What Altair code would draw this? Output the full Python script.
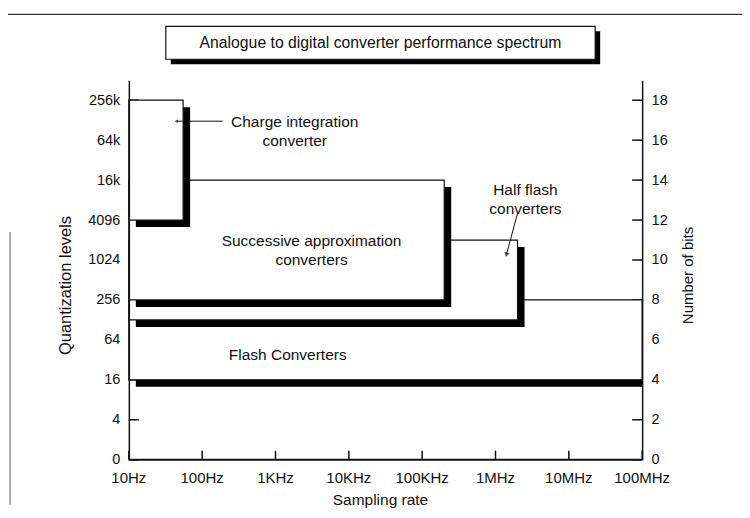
import altair as alt
import pandas as pd

# ---------------- data ----------------
conv_names = ["Flash", "Half flash", "Successive approximation", "Charge integration"]
freq_lo = [10, 10, 10, 10]                 # Hz
freq_hi = [1e8, 2e6, 2e5, 55]              # Hz
bits_lo = [4, 7, 8, 12]
bits_hi = [8, 11, 14, 18]

x_tick_vals = [10, 100, 1e3, 1e4, 1e5, 1e6, 1e7, 1e8]
x_tick_labels = ["10Hz", "100Hz", "1KHz", "10KHz", "100KHz", "1MHz", "10MHz", "100MHz"]
bit_ticks = [0, 2, 4, 6, 8, 10, 12, 14, 16, 18]
quant_labels = ["0", "4", "16", "64", "256", "1024", "4096", "16k", "64k", "256k"]

ann_text = ["Charge integration\nconverter", "Successive approximation\nconverters",
            "Half flash\nconverters", "Flash Converters"]
ann_freq = [1830, 3100, 2.56e6, 1470]
ann_bits = [16.9, 10.93, 13.5, 5.25]

# leader lines
lead_f1 = [45, 2.0e6]
lead_f2 = [190, 1.42e6]
lead_b1 = [16.95, 12.35]
lead_b2 = [16.95, 10.3]
head_f = [45, 1.42e6]
head_b = [16.95, 10.3]
head_angle = [270, 195]
head_size = [14, 30]

# ---------------- layout ----------------
W, H = 514, 380
FONT = "Liberation Sans"

boxes = pd.DataFrame(dict(name=conv_names, f_lo=freq_lo, f_hi=freq_hi, b_lo=bits_lo, b_hi=bits_hi))
ticks_df = pd.DataFrame(dict(b=bit_ticks))
xt_df = pd.DataFrame(dict(f=x_tick_vals, lab=x_tick_labels))
ann_df = pd.DataFrame(dict(t=ann_text, f=ann_freq, b=ann_bits))
lead_df = pd.DataFrame(dict(f1=lead_f1, f2=lead_f2, b1=lead_b1, b2=lead_b2))
head_df = pd.DataFrame(dict(f=head_f, b=head_b, a=head_angle, s=head_size))

xscale = alt.Scale(type="log", domain=[10, 1e8], nice=False)
yscale = alt.Scale(domain=[0, 19], nice=False, zero=False)

y_label_expr = "[" + ",".join("'%s'" % s for s in quant_labels) + "][round(datum.value/2)]"

left_axis = alt.Axis(values=bit_ticks, labelExpr=y_label_expr, ticks=False, tickSize=0,
                     grid=False, domainColor="#111", domainWidth=1.5, labelPadding=9,
                     labelFont=FONT, labelFontSize=14.5, labelColor="#111", zindex=1,
                     labelOverlap=False,
                     title="Quantization levels", titleFont=FONT, titleFontSize=16.5,
                     titleFontWeight="normal", titleColor="#111", titleAngle=270,
                     titleX=-63, titleY=205, titleAlign="center", titleBaseline="middle")

right_axis = alt.Axis(orient="right", values=bit_ticks, format="d", ticks=False, tickSize=0,
                      grid=False, domainColor="#111", domainWidth=1.5, labelPadding=9,
                      labelFont=FONT, labelFontSize=14.5, labelColor="#111", zindex=1,
                      labelOverlap=False,
                      title="Number of bits", titleFont=FONT, titleFontSize=15,
                      titleFontWeight="normal", titleColor="#111", titleAngle=270,
                      titleX=45, titleY=195, titleAlign="center", titleBaseline="middle")

layers = []

# axis carrier layers (invisible)
layers.append(alt.Chart(ticks_df).mark_point(opacity=0).encode(
    y=alt.Y("b:Q", scale=yscale, axis=left_axis)))
layers.append(alt.Chart(ticks_df).mark_point(opacity=0).encode(
    y=alt.Y("b:Q", scale=yscale, axis=right_axis)))

# inward ticks
layers.append(alt.Chart(ticks_df).mark_rule(color="#111", strokeWidth=1.5).encode(
    y=alt.Y("b:Q", scale=yscale, axis=None), x=alt.value(0), x2=alt.value(10)))
layers.append(alt.Chart(ticks_df).mark_rule(color="#111", strokeWidth=1.5).encode(
    y=alt.Y("b:Q", scale=yscale, axis=None), x=alt.value(W - 10), x2=alt.value(W)))
layers.append(alt.Chart(xt_df).mark_rule(color="#111", strokeWidth=1.5).encode(
    x=alt.X("f:Q", scale=xscale, axis=None), y=alt.value(H), y2=alt.value(H - 9)))

# converter boxes with drop shadows
for n in conv_names:
    sub = alt.Chart(boxes).transform_filter(alt.datum.name == n)
    enc = dict(x=alt.X("f_lo:Q", scale=xscale, axis=None), x2="f_hi:Q",
               y=alt.Y("b_lo:Q", scale=yscale, axis=None), y2="b_hi:Q")
    layers.append(sub.mark_rect(color="black", xOffset=7, x2Offset=7, yOffset=7,
                                y2Offset=7, clip=True).encode(**enc))
    layers.append(sub.mark_rect(fill="white", stroke="#111", strokeWidth=1.2).encode(**enc))

# bottom axis line, x tick labels and x title
layers.append(alt.Chart(ticks_df.head(1)).mark_rule(color="#111", strokeWidth=2).encode(
    x=alt.value(0), x2=alt.value(W), y=alt.value(H)))
layers.append(alt.Chart(xt_df).mark_text(font=FONT, fontSize=15, color="#111",
                                         align="center", baseline="middle").encode(
    x=alt.X("f:Q", scale=xscale, axis=None), y=alt.value(H + 18), text="lab:N"))
layers.append(alt.Chart(ticks_df.head(1)).mark_text(font=FONT, fontSize=15.5, color="#111",
                                                    align="center", baseline="middle").encode(
    x=alt.value(252), y=alt.value(H + 40), text=alt.value("Sampling rate")))

# annotations
layers.append(alt.Chart(ann_df).mark_text(font=FONT, fontSize=15.5, color="#111", lineBreak="\n",
                                          lineHeight=19, align="center", baseline="middle").encode(
    x=alt.X("f:Q", scale=xscale, axis=None), y=alt.Y("b:Q", scale=yscale, axis=None), text="t:N"))
layers.append(alt.Chart(lead_df).mark_rule(color="#111", strokeWidth=1).encode(
    x=alt.X("f1:Q", scale=xscale, axis=None), x2="f2:Q",
    y=alt.Y("b1:Q", scale=yscale, axis=None), y2="b2:Q"))
layers.append(alt.Chart(head_df).mark_point(shape="triangle", filled=True, color="#111").encode(
    x=alt.X("f:Q", scale=xscale, axis=None), y=alt.Y("b:Q", scale=yscale, axis=None),
    angle=alt.Angle("a:Q", scale=None), size=alt.Size("s:Q", scale=None)))

# title box (decoration)
layers.append(alt.Chart(ticks_df.head(1)).mark_rect(color="black").encode(
    x=alt.value(42), x2=alt.value(472), y=alt.value(-49), y2=alt.value(-16)))
layers.append(alt.Chart(ticks_df.head(1)).mark_rect(fill="white", stroke="#111", strokeWidth=1.2).encode(
    x=alt.value(37), x2=alt.value(467), y=alt.value(-54), y2=alt.value(-21)))
layers.append(alt.Chart(ticks_df.head(1)).mark_text(font=FONT, fontSize=15.8, color="#111").encode(
    x=alt.value(252), y=alt.value(-37),
    text=alt.value("Analogue to digital converter performance spectrum")))

# page border lines of the scanned figure
layers.append(alt.Chart(ticks_df.head(1)).mark_rule(color="#333", strokeWidth=1.2).encode(
    x=alt.value(-121), x2=alt.value(W + 100), y=alt.value(-66)))
layers.append(alt.Chart(ticks_df.head(1)).mark_rule(color="#555", strokeWidth=1).encode(
    x=alt.value(-119), y=alt.value(152), y2=alt.value(425)))

chart = alt.layer(*layers).resolve_scale(y="independent").properties(
    width=W, height=H,
    autosize=alt.AutoSizeParams(type="none"),
    padding={"left": 121, "top": 72, "right": 100, "bottom": 50},
    background="white",
).configure_view(stroke=None)

chart.save("out.html", embed_options={"renderer": "svg", "actions": False})
